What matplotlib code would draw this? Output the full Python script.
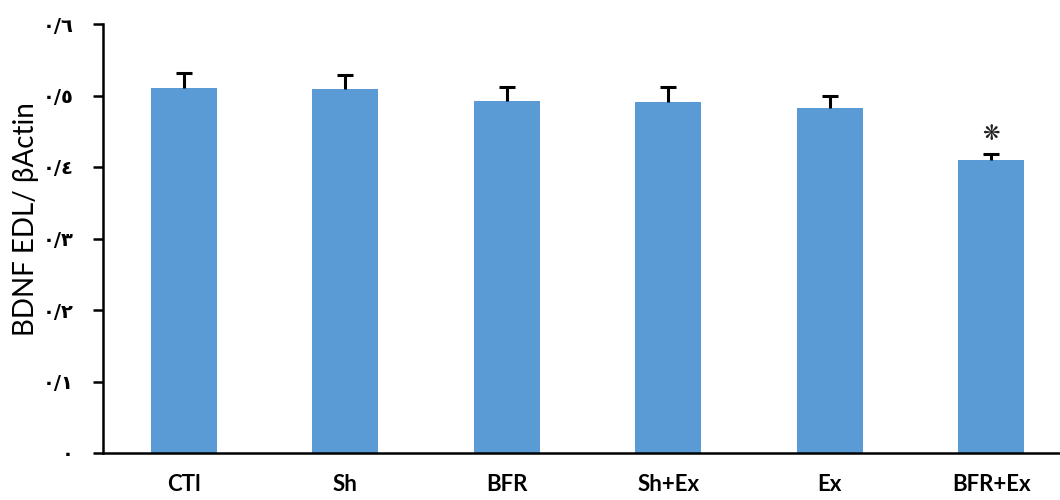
import matplotlib
matplotlib.use("Agg")
import matplotlib.pyplot as plt

groups = ["CTl", "Sh", "BFR", "Sh+Ex", "Ex", "BFR+Ex"]
means = [0.510, 0.509, 0.492, 0.491, 0.483, 0.410]
err_up = [0.021, 0.020, 0.020, 0.021, 0.017, 0.008]
yticks = [0, 0.1, 0.2, 0.3, 0.4, 0.5, 0.6]
ytick_labels = ["٠", "٠/١", "٠/٢", "٠/٣", "٠/٤", "٠/٥", "٠/٦"]
sig_marks = ["", "", "", "", "", "❋"]

BAR = "#5B9BD5"

fig = plt.figure(figsize=(10.6, 5.0), dpi=100)
# axes runs a bit past the right edge, like the cropped original
ax = fig.add_axes([103 / 1060, 47 / 500, 969 / 1060, 429 / 500])

x = list(range(len(groups)))
ax.bar(x, means, width=0.41, color=BAR, zorder=2)
eb = ax.errorbar(x, means, yerr=[[0] * len(means), err_up], fmt="none",
                 ecolor="black", elinewidth=2.2, capsize=6, capthick=2.2,
                 zorder=3)
# upper whisker only, no cap on the bar top
eb[1][0].set_visible(False)

for xi, m, e, s in zip(x, means, err_up, sig_marks):
    if s:
        ax.text(xi, m + e + 0.028, s, ha="center", va="center",
                fontsize=15, color="#222222", family="DejaVu Sans")

ax.set_xlim(-0.5, len(groups) - 0.5)
ax.set_ylim(0, 0.6)
ax.set_yticks(yticks)
ax.set_yticklabels(ytick_labels, family="DejaVu Sans", fontsize=14,
                   fontweight="bold")
ax.set_xticks(x)
ax.set_xticklabels(groups, family="Lato", fontsize=16, fontweight="bold")
ax.tick_params(axis="x", length=0, pad=15)
ax.tick_params(axis="y", length=7, width=1.8, direction="out", pad=14)

ax.set_ylabel("BDNF EDL/ βActin", family="Lato", fontsize=20)
ax.yaxis.set_label_coords(-0.066, 0.545)

ax.spines["top"].set_visible(False)
ax.spines["right"].set_visible(False)
ax.spines["left"].set_linewidth(1.8)
ax.spines["bottom"].set_linewidth(1.8)

fig.savefig("out.png", dpi=100, facecolor="white")
